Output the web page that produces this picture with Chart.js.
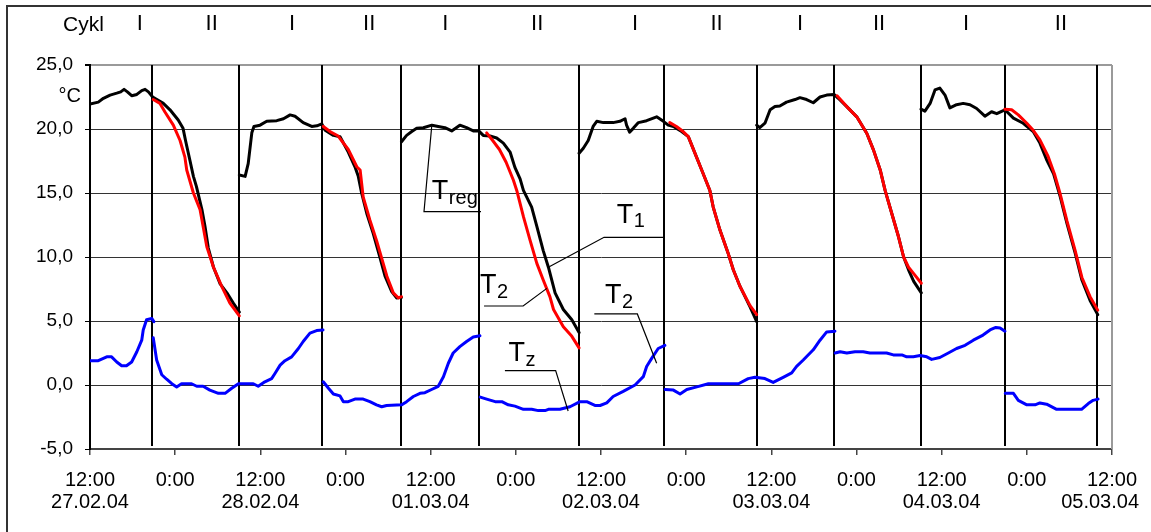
<!DOCTYPE html>
<html><head><meta charset="utf-8">
<script src="https://cdn.jsdelivr.net/npm/chart.js@4.4.0/dist/chart.umd.min.js"></script>
<style>html,body{margin:0;padding:0;background:#fff;}#wrap{width:1151px;height:532px;position:relative;}</style>
</head><body><div id="wrap"><canvas id="c" width="1151" height="532"></canvas></div>
<script>
const FONT = "'Liberation Sans', Arial, Helvetica, sans-serif";

// Time axis in hours from 12:00 27.02.04
const xTickValues = [0,12,24,36,48,60,72,84,96,108,120,132,144];
const xTickTimes = ['12:00','0:00','12:00','0:00','12:00','0:00','12:00','0:00','12:00','0:00','12:00','0:00','12:00'];
const xTickDates = ['27.02.04','','28.02.04','','01.03.04','','02.03.04','','03.03.04','','04.03.04','','05.03.04'];
const yTickValues = [-5,0,5,10,15,20,25];

// T1 / Treg (black); null = break between runs
const t1Hours = [
 0,1.17,1.89,2.83,3.77,4.33,4.8,5.27,5.87,6.6,7.29,7.76,8.23,8.83,9.43,10.33,11.27,12.43,13.11,13.46,14.06,14.57,15.0,15.77,16.2,16.67,17.4,18.34,19.29,20.19,21.04,
 null,
 21.04,21.86,22.29,22.8,23.1,23.96,24.9,26.31,27.26,28.2,28.89,30.04,31.24,31.97,32.66,33.13,34.29,35.23,36.39,37.33,37.8,38.27,39.0,39.9,40.89,41.57,42.51,43.2,43.89,
 null,
 43.89,44.61,45.34,46.03,46.97,48.17,49.07,50.01,50.96,52.11,53.06,54.0,54.77,55.41,56.36,57.3,58.24,59.19,59.87,60.6,61.07,62.23,62.96,63.86,64.59,65.53,66.69,67.89,68.91,
 null,
 68.91,69.51,70.2,70.89,71.4,72.34,73.71,74.66,75.39,75.6,76.03,76.54,77.27,78.43,79.84,80.79,81.47,82.2,83.36,84.3,85.46,86.19,87.34,87.81,88.76,89.91,90.64,91.59,93.0,93.94,
 null,
 93.94,94.37,95.1,95.83,96.51,97.2,98.14,99.34,100.03,100.97,101.91,102.86,103.8,104.83,105.43,106.63,108.04,109.46,110.4,111.34,112.03,112.97,113.91,114.64,115.33,116.06,117.13,
 null,
 117.09,117.64,118.37,119.06,119.74,120.47,121.16,122.1,123.04,123.99,124.93,126.09,127.03,127.76,128.91,130.11,131.49,132.9,133.84,134.79,135.77,136.71,137.66,138.81,139.76,140.91,141.99
];
const t1Values = [
 21.95,22.1,22.4,22.65,22.8,22.9,23.1,22.9,22.6,22.7,23.0,23.1,22.9,22.5,22.3,22.0,21.5,20.7,20.05,19.1,17.6,16.3,15.5,13.7,12.4,10.7,9.2,7.9,7.2,6.4,5.7,
 null,
 16.4,16.3,17.3,19.7,20.2,20.3,20.6,20.65,20.8,21.1,21.0,20.5,20.2,20.25,20.4,19.9,19.5,19.4,18.2,17.05,16.3,15.0,13.4,11.85,9.9,8.5,7.3,6.8,6.85,
 null,
 19.0,19.5,19.8,20.05,20.1,20.3,20.2,20.1,19.85,20.3,20.1,19.85,19.85,19.5,19.45,19.3,18.9,18.2,17.0,16.1,15.2,13.9,12.4,10.5,9.2,7.2,5.9,5.1,4.1,
 null,
 18.1,18.5,19.1,20.2,20.6,20.5,20.5,20.6,20.8,20.3,19.75,20.05,20.5,20.65,20.95,20.6,20.3,20.2,19.8,19.4,17.8,16.8,15.2,13.9,12.1,10.3,9.0,7.7,6.1,4.95,
 null,
 20.3,20.1,20.45,21.5,21.75,21.8,22.1,22.3,22.45,22.3,22.05,22.5,22.65,22.7,22.4,21.75,20.95,19.65,18.35,16.8,15.2,13.4,11.6,10.0,9.0,8.1,7.2,
 null,
 21.55,21.4,22.0,23.05,23.2,22.65,21.65,21.9,22.0,21.9,21.6,21.0,21.35,21.2,21.5,20.85,20.45,19.8,18.9,17.6,16.5,14.7,12.6,10.3,8.2,6.6,5.5
];

// T2 (red) - cooling cycles only
const t2Hours = [
 8.91,9.86,10.54,11.74,12.69,13.37,13.63,14.57,15.51,16.46,17.4,18.56,19.71,21.04,
 null,
 32.87,33.81,34.97,36.39,37.59,38.06,38.49,39.43,40.37,41.31,41.83,42.73,43.46,43.89,
 null,
 55.89,56.74,57.69,58.63,59.66,60.13,61.07,62.01,62.96,63.86,64.8,65.31,66.69,67.89,68.91,
 null,
 81.69,82.63,83.57,84.3,85.46,86.19,87.34,87.81,88.76,89.91,90.64,91.59,93.0,93.94,
 null,
 105.26,106.63,108.04,109.46,110.4,111.34,112.03,112.97,113.91,114.64,115.33,116.06,117.13,
 null,
 128.91,129.86,130.8,132.0,132.9,133.84,135.0,135.94,136.71,137.66,138.81,139.76,140.91,141.99
];
const t2Values = [
 22.3,22.0,21.35,20.3,19.1,17.8,16.8,15.0,13.7,10.8,9.2,7.7,6.4,5.4,
 null,
 20.2,19.8,19.45,18.4,17.05,16.8,14.7,12.9,11.3,9.5,8.5,7.2,6.8,6.9,
 null,
 19.7,19.1,18.4,17.4,16.0,15.2,13.15,11.3,9.5,8.2,6.9,5.9,4.55,3.8,2.9,
 null,
 20.5,20.2,19.8,19.4,17.8,16.8,15.2,13.9,12.1,10.3,9.0,7.7,6.2,5.5,
 null,
 22.6,21.75,20.95,19.65,18.35,16.8,15.2,13.4,11.6,10.0,9.2,8.7,7.95,
 null,
 21.55,21.5,21.1,20.45,19.9,19.15,17.85,16.4,14.9,12.8,10.5,8.4,6.9,5.85
];

// Tz (blue)
const tzHours = [
 0,1.17,2.36,3.04,3.77,4.46,5.14,5.87,6.6,7.29,7.5,7.97,8.7,9.0,
 null,
 8.91,9.39,10.11,10.8,11.53,12.21,12.9,14.31,15.04,15.94,16.89,18.09,19.03,19.97,20.91,23.01,23.7,24.64,25.59,26.06,26.79,27.47,28.41,29.36,30.04,30.99,31.93,32.83,
 null,
 32.87,33.6,34.29,35.23,35.7,36.39,37.33,38.49,39.43,40.37,41.1,41.79,43.93,44.61,45.56,46.5,47.19,48.13,49.07,49.8,50.49,51.17,52.11,53.06,54.0,54.94,
 null,
 54.99,55.89,57.09,58.03,58.93,59.87,61.07,62.23,63.17,64.11,64.59,66.21,67.63,69.04,69.99,71.14,71.87,72.81,73.71,75.13,76.8,77.96,78.43,79.16,80.06,81.0,
 null,
 81.04,82.2,83.14,84.09,85.5,87.13,88.29,91.37,92.74,93.69,95.1,96.26,97.67,98.87,99.56,100.5,101.91,102.86,103.8,104.96,
 null,
 105.0,105.69,106.63,107.79,108.94,109.89,112.24,113.19,114.39,115.07,116.01,116.96,117.9,118.59,119.74,120.94,122.1,123.3,124.46,125.83,126.81,127.63,128.23,128.91,
 null,
 128.96,130.11,130.8,132.0,133.16,133.84,134.79,136.2,137.61,139.71,140.66,141.34,142.03
];
const tzValues = [
 1.9,1.9,2.2,2.2,1.8,1.5,1.5,1.8,2.6,3.5,4.3,5.1,5.2,4.95,
 null,
 3.7,1.95,0.8,0.45,0.1,-0.15,0.1,0.1,-0.1,-0.1,-0.4,-0.65,-0.65,-0.25,0.1,0.1,-0.1,0.25,0.5,0.9,1.55,1.9,2.2,2.85,3.4,4.05,4.25,4.3,
 null,
 0.25,-0.25,-0.7,-0.85,-1.3,-1.3,-1.1,-1.1,-1.3,-1.55,-1.7,-1.6,-1.55,-1.3,-0.9,-0.65,-0.6,-0.35,-0.1,0.65,1.7,2.5,3.0,3.4,3.75,3.85,
 null,
 -0.95,-1.1,-1.3,-1.3,-1.55,-1.65,-1.9,-1.9,-2.0,-2.0,-1.9,-1.9,-1.7,-1.3,-1.3,-1.6,-1.6,-1.4,-0.9,-0.5,0.0,0.65,1.45,2.1,2.85,3.1,
 null,
 -0.35,-0.4,-0.7,-0.35,-0.15,0.1,0.1,0.1,0.5,0.6,0.5,0.2,0.6,0.95,1.45,1.95,2.75,3.5,4.15,4.2,
 null,
 2.5,2.6,2.5,2.6,2.6,2.5,2.5,2.35,2.35,2.2,2.2,2.3,2.2,2.0,2.15,2.5,2.85,3.1,3.5,3.9,4.3,4.5,4.45,4.2,
 null,
 -0.65,-0.65,-1.2,-1.55,-1.55,-1.4,-1.5,-1.9,-1.9,-1.9,-1.45,-1.2,-1.1
];

// Cycle boundaries and cycle names
const cycleBoundaries = [8.79,21.04,32.7,43.89,54.77,68.91,80.91,93.94,104.83,117.09,128.91,141.86];
const cycleNames = ['I','II','I','II','I','II','I','II','I','II','I','II'];
const cycleNameHours = [7.03,17.14,28.46,39.34,50.06,63.0,76.8,88.29,100.03,111.17,123.43,136.8];

// Callout labels (anchor points in hours / °C)
const callouts = [
 {main:'T', sub:'reg', text:[48.17,14.5], path:[[48.15,20.23],[47.06,13.54],[55.09,13.54]]},
 {main:'T', sub:'1',   text:[74.23,12.66], path:[[64.71,9.24],[72.43,11.54],[80.88,11.54]]},
 {main:'T', sub:'2',   text:[54.94,7.15], path:[[64.37,7.55],[61.03,6.17],[55.52,6.17]]},
 {main:'T', sub:'2',   text:[72.57,6.37], path:[[79.84,1.7],[77.12,5.55],[71.06,5.55]]},
 {main:'T', sub:'z',   text:[58.97,1.84], path:[[67.37,-2.03],[65.61,1.12],[58.46,1.12]]}
];

function toPoints(hours, values){
  const pts=[]; let lastX=0;
  for(let i=0;i<values.length;i++){
    if(values[i]===null||hours[i]===null){pts.push({x:lastX,y:null});}
    else{pts.push({x:hours[i],y:values[i]}); lastX=hours[i];}
  }
  return pts;
}

const decor = {
  id:'decor',
  beforeDatasetsDraw(chart){
    const {ctx, chartArea:a, scales:{x}} = chart;
    ctx.save();
    ctx.strokeStyle='#000'; ctx.lineWidth=2;
    cycleBoundaries.forEach(h=>{
      const px=Math.round(x.getPixelForValue(h));
      ctx.beginPath(); ctx.moveTo(px,a.top); ctx.lineTo(px,a.bottom-3); ctx.stroke();
    });
    ctx.restore();
  },
  afterDatasetsDraw(chart){
    const {ctx, scales:{x,y}} = chart;
    ctx.save();
    ctx.strokeStyle='#000'; ctx.lineWidth=1.2; ctx.fillStyle='#000';
    callouts.forEach(c=>{
      ctx.beginPath();
      c.path.forEach((p,i)=>{const px=x.getPixelForValue(p[0]),py=y.getPixelForValue(p[1]); if(i===0)ctx.moveTo(px,py); else ctx.lineTo(px,py);});
      ctx.stroke();
      const tx=x.getPixelForValue(c.text[0]), ty=y.getPixelForValue(c.text[1]);
      ctx.font='27px '+FONT; ctx.textAlign='left'; ctx.textBaseline='alphabetic';
      ctx.fillText(c.main,tx,ty);
      const w=ctx.measureText(c.main).width;
      ctx.font='20px '+FONT;
      ctx.fillText(c.sub,tx+w+0.5,ty+4.5);
    });
    ctx.restore();
  },
  afterDraw(chart){
    const {ctx, chartArea:a, scales:{x}} = chart;
    ctx.save();
    ctx.strokeStyle='#9a9a9a'; ctx.lineWidth=2;
    ctx.beginPath(); ctx.moveTo(a.right,a.top); ctx.lineTo(a.right,a.bottom); ctx.stroke();
    ctx.fillStyle='#000'; ctx.textBaseline='alphabetic';
    ctx.font='21px '+FONT; ctx.textAlign='left';
    ctx.fillText('Cykl',63,31);
    ctx.font='22px '+FONT; ctx.textAlign='center';
    cycleNames.forEach((n,i)=>ctx.fillText(n,x.getPixelForValue(cycleNameHours[i]),30));
    ctx.font='20px '+FONT; ctx.textAlign='right';
    ctx.fillText('°C',81,102);
    ctx.font='20px '+FONT;
    xTickTimes.forEach((t,i)=>{
      const cx=x.getPixelForValue(xTickValues[i]);
      [[t,486],[xTickDates[i],508]].forEach(([s,by])=>{
        if(!s) return;
        const w=ctx.measureText(s).width;
        let left=cx-w/2;
        if(left+w>1139) left=1139-w;
        ctx.textAlign='left';
        ctx.fillText(s,left,by);
      });
    });
    ctx.strokeStyle='#333'; ctx.lineWidth=2;
    ctx.beginPath(); ctx.moveTo(7,532); ctx.lineTo(7,6); ctx.lineTo(1151,6); ctx.stroke();
    ctx.restore();
  }
};

new Chart(document.getElementById('c'),{
  type:'line',
  data:{datasets:[
    {label:'T2', data:toPoints(t2Hours,t2Values), borderColor:'#ff0000', borderWidth:3, pointRadius:0, tension:0, spanGaps:false, borderJoinStyle:'round', borderCapStyle:'round'},
    {label:'T1', data:toPoints(t1Hours,t1Values), borderColor:'#000000', borderWidth:3, pointRadius:0, tension:0, spanGaps:false, borderJoinStyle:'round', borderCapStyle:'round'},
    {label:'Tz', data:toPoints(tzHours,tzValues), borderColor:'#0000ff', borderWidth:3, pointRadius:0, tension:0, spanGaps:false, borderJoinStyle:'round', borderCapStyle:'round'}
  ]},
  options:{
    responsive:false, animation:false, devicePixelRatio:1,
    layout:{padding:{top:65,right:39,left:0,bottom:0}},
    plugins:{legend:{display:false}, tooltip:{enabled:false}},
    scales:{
      x:{type:'linear', min:0, max:144,
        afterBuildTicks:s=>{s.ticks=xTickValues.map(v=>({value:v}));},
        afterFit:s=>{s.height=83;},
        ticks:{display:false},
        grid:{drawOnChartArea:false, drawTicks:true, tickLength:6, color:'#444', lineWidth:1.5},
        border:{display:true, color:'#444', width:2}
      },
      y:{type:'linear', min:-5, max:25,
        afterBuildTicks:s=>{s.ticks=yTickValues.map(v=>({value:v}));},
        afterFit:s=>{s.width=90;},
        ticks:{padding:12, color:'#000', font:{family:FONT, size:19},
          callback:v=>v.toFixed(1).replace('.',',')},
        grid:{color:c=>c.tick&&c.tick.value===25?'#9a9a9a':'#333', lineWidth:c=>c.tick&&c.tick.value===25?2:1, tickLength:5, tickColor:'#000'},
        border:{display:true, color:'#000', width:2}
      }
    }
  },
  plugins:[decor]
});
</script></body></html>
